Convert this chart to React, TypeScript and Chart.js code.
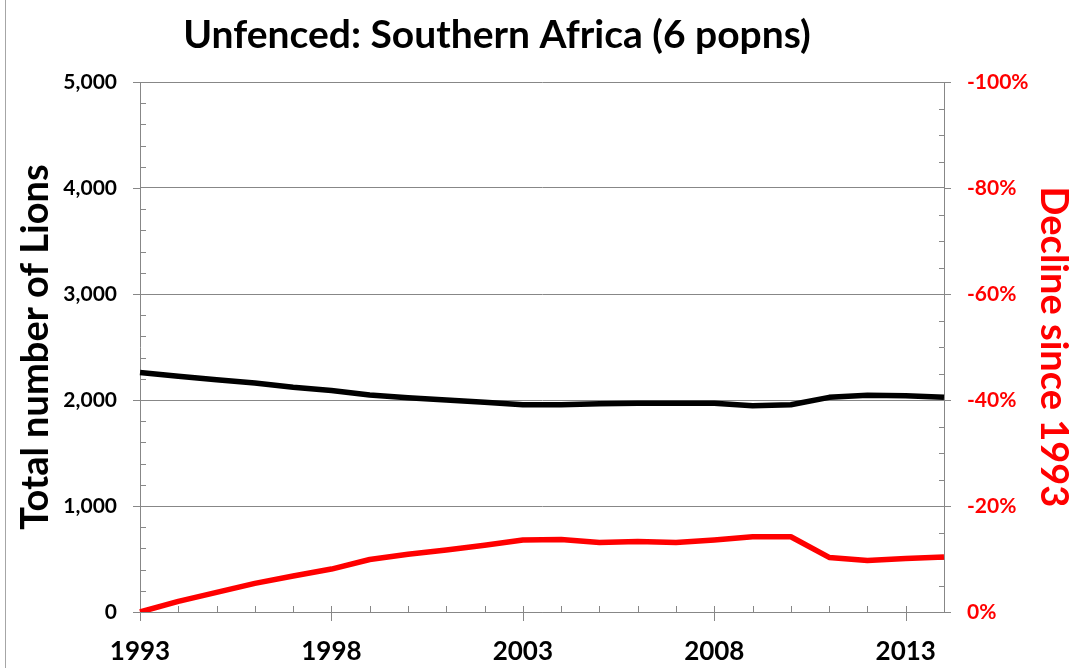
import React, { useEffect, useRef } from 'react';
import { Chart, registerables } from 'chart.js';

Chart.register(...registerables);

const years = [
  '1993', '1994', '1995', '1996', '1997', '1998', '1999', '2000', '2001', '2002', '2003',
  '2004', '2005', '2006', '2007', '2008', '2009', '2010', '2011', '2012', '2013', '2014',
];
const lionCounts = [
  2260, 2225, 2190, 2160, 2120, 2090, 2048, 2022, 2000, 1978, 1955,
  1955, 1965, 1970, 1970, 1970, 1945, 1955, 2025, 2045, 2040, 2025,
];
const declinePct = [
  0, -2.0, -3.7, -5.4, -6.8, -8.1, -9.9, -10.9, -11.7, -12.6, -13.6,
  -13.7, -13.1, -13.3, -13.1, -13.6, -14.2, -14.2, -10.3, -9.7, -10.1, -10.4,
];
const titleText = 'Unfenced: Southern Africa (6 popns)';
const leftAxisTitle = 'Total number of Lions';
const rightAxisTitle = 'Decline since 1993';
const lionAxisMin = 0;
const lionAxisMax = 5000;
const lionMajorStep = 1000;
const lionMinorStep = 200;
const pctAxisMin = -100;
const pctAxisMax = 0;
const pctMajorStep = 20;
const pctMinorStep = 5;
const yearLabelEvery = 5;

const FONT = 'Lato, "Open Sans", "DejaVu Sans", sans-serif';
const GRAY = '#878787';
const RED = '#ff0000';

const decorPlugin = {
  id: 'decor',
  beforeDraw(chart: any) {
    const { ctx, width, height } = chart;
    ctx.save();
    ctx.fillStyle = '#ffffff';
    ctx.fillRect(0, 0, width, height);
    ctx.strokeStyle = '#a6a6a6';
    ctx.lineWidth = 1;
    ctx.beginPath();
    ctx.moveTo(5.5, 0);
    ctx.lineTo(5.5, height);
    ctx.stroke();
    ctx.restore();
  },
  beforeDatasetsDraw(chart: any) {
    const { ctx, chartArea: a, scales } = chart;
    ctx.save();
    ctx.strokeStyle = GRAY;
    ctx.lineWidth = 1;
    const seg = (x1: number, y1: number, x2: number, y2: number) => {
      ctx.beginPath();
      ctx.moveTo(x1, y1);
      ctx.lineTo(x2, y2);
      ctx.stroke();
    };
    years.forEach((_, i) => {
      const px = Math.round(scales.x.getPixelForValue(i)) + 0.5;
      const major = i % yearLabelEvery === 0;
      seg(px, a.bottom - 6, px, a.bottom + (major ? 9 : 0));
    });
    for (let v = lionAxisMin; v <= lionAxisMax; v += lionMinorStep) {
      const py = Math.round(scales.y.getPixelForValue(v)) + 0.5;
      const major = v % lionMajorStep === 0;
      if (major) seg(a.left - 7, py, a.left, py);
      else seg(a.left, py, a.left + 6, py);
    }
    for (let v = pctAxisMin; v <= pctAxisMax; v += pctMinorStep) {
      const py = Math.round(scales.y1.getPixelForValue(v)) + 0.5;
      const major = v % pctMajorStep === 0;
      if (major) seg(a.right, py, a.right + 7, py);
      else seg(a.right - 5, py, a.right, py);
    }
    ctx.restore();
  },
  afterDraw(chart: any) {
    const { ctx } = chart;
    ctx.save();
    ctx.fillStyle = '#000000';
    ctx.font = `bold 39px ${FONT}`;
    ctx.textAlign = 'center';
    ctx.textBaseline = 'alphabetic';
    ctx.fillText(titleText, 497, 48);
    ctx.restore();
  },
};

export default function App() {
  const canvasRef = useRef<HTMLCanvasElement | null>(null);

  useEffect(() => {
    const canvas = canvasRef.current;
    if (!canvas) return;
    const chart = new Chart(canvas, {
      type: 'line',
      data: {
        labels: years,
        datasets: [
          {
            label: 'Total number of Lions',
            data: lionCounts,
            yAxisID: 'y',
            borderColor: '#000000',
            backgroundColor: '#000000',
            borderWidth: 5.5,
            pointRadius: 0,
            tension: 0,
            borderJoinStyle: 'round',
          },
          {
            label: 'Decline since 1993',
            data: declinePct,
            yAxisID: 'y1',
            borderColor: RED,
            backgroundColor: RED,
            borderWidth: 5.5,
            pointRadius: 0,
            tension: 0,
            borderJoinStyle: 'round',
          },
        ],
      },
      options: {
        responsive: false,
        animation: false,
        layout: { padding: { top: 82, left: 0, right: 0, bottom: 0 } },
        plugins: {
          legend: { display: false },
          tooltip: { enabled: false },
          title: { display: false },
        },
        scales: {
          x: {
            type: 'category',
            offset: false,
            grid: { display: false, drawTicks: false },
            border: { display: true, color: GRAY, width: 1 },
            ticks: {
              autoSkip: false,
              maxRotation: 0,
              padding: 24,
              color: '#000000',
              font: { family: FONT, size: 26, weight: 'bold' },
              callback: (_v: any, i: number) => (i % yearLabelEvery === 0 ? years[i] : ''),
            },
            afterFit: (s: any) => {
              s.height = 56;
            },
          },
          y: {
            type: 'linear',
            position: 'left',
            min: lionAxisMin,
            max: lionAxisMax,
            grid: { color: GRAY, drawTicks: false, lineWidth: 1 },
            border: { display: true, color: GRAY, width: 1 },
            ticks: {
              stepSize: lionMajorStep,
              padding: 23,
              color: '#000000',
              font: { family: FONT, size: 21, weight: 'bold' },
              callback: (v: any) => Number(v).toLocaleString('en-US'),
            },
            title: {
              display: true,
              text: leftAxisTitle,
              color: '#000000',
              font: { family: FONT, size: 38, weight: 'bold' },
              padding: { top: 13, bottom: 0 },
            },
            afterFit: (s: any) => {
              s.width = 140;
            },
          },
          y1: {
            type: 'linear',
            position: 'right',
            min: pctAxisMin,
            max: pctAxisMax,
            reverse: true,
            grid: { drawOnChartArea: false, drawTicks: false },
            border: { display: true, color: GRAY, width: 1 },
            ticks: {
              stepSize: pctMajorStep,
              padding: 23,
              color: RED,
              font: { family: FONT, size: 21, weight: 'bold' },
              callback: (v: any) => `${v}%`,
            },
            title: {
              display: true,
              text: rightAxisTitle,
              color: RED,
              font: { family: FONT, size: 38, weight: 'bold' },
              padding: { top: 12, bottom: 0 },
            },
            afterFit: (s: any) => {
              s.width = 144;
            },
          },
        },
      },
      plugins: [decorPlugin],
    } as any);
    return () => chart.destroy();
  }, []);

  return (
    <div style={{ position: 'fixed', left: 0, top: 0, width: 1088, height: 668, background: '#fff' }}>
      <canvas ref={canvasRef} width={1088} height={668} />
    </div>
  );
}
